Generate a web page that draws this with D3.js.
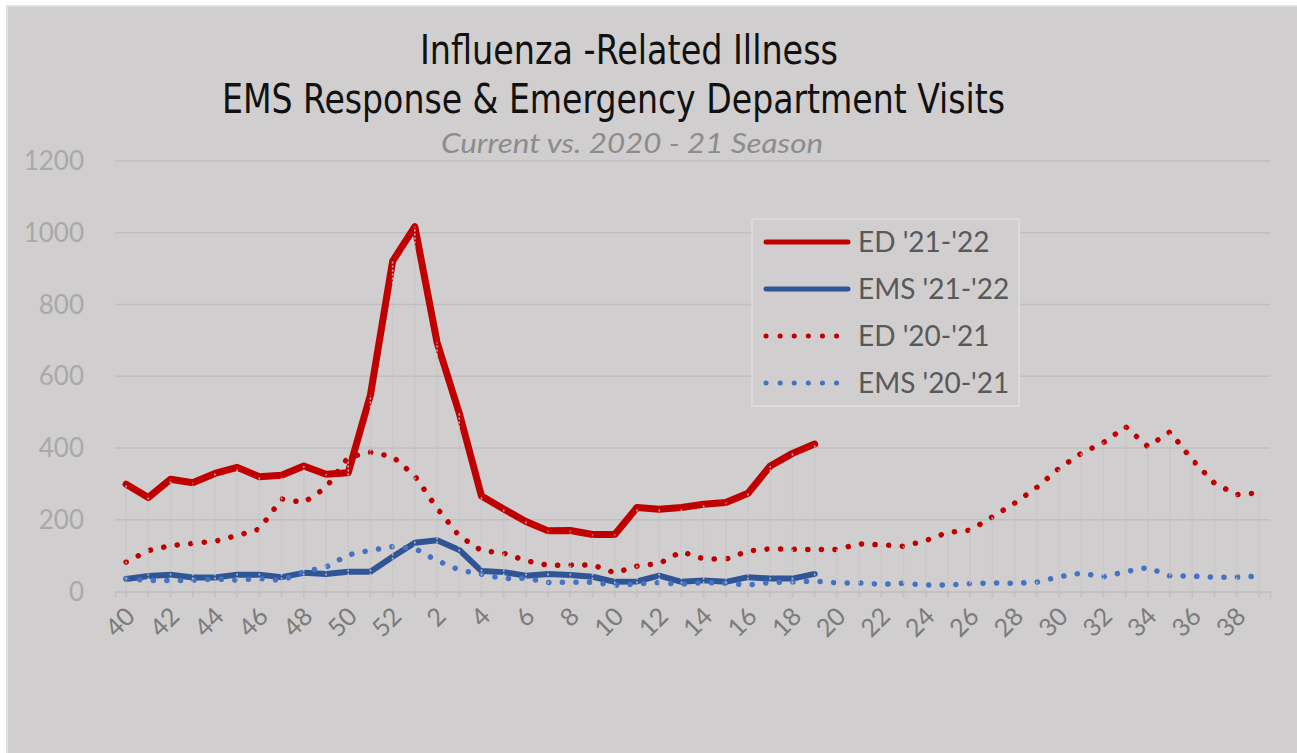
<!DOCTYPE html>
<html><head><meta charset="utf-8">
<script src="https://cdn.jsdelivr.net/npm/d3@7/dist/d3.min.js"></script>
<style>html,body{margin:0;padding:0;background:#fff;}svg{display:block;}</style>
</head><body>
<svg id="c" width="1297" height="753"></svg>
<script>
const weeks = [40,41,42,43,44,45,46,47,48,49,50,51,52,1,2,3,4,5,6,7,8,9,10,11,12,13,14,15,16,17,18,19,20,21,22,23,24,25,26,27,28,29,30,31,32,33,34,35,36,37,38,39];
const edCurrent = [299,262,313,303,329,346,320,324,350,327,331,548,921,1017,694,497,266,230,195,169,170,159,159,234,229,234,243,248,274,350,385,411];
const emsCurrent = [35,43,47,39,39,47,47,40,52,49,55,55,97,136,143,116,57,54,44,49,46,41,27,28,44,27,31,27,40,36,36,49];
const edPrev = [82,114,128,134,140,156,174,258,248,290,374,388,376,322,232,155,114,107,86,73,74,74,52,71,78,111,91,90,113,119,118,117,117,133,130,126,142,165,171,208,246,290,343,385,415,459,404,445,367,302,270,275];
const emsPrev = [35,31,31,31,35,32,36,31,55,68,102,115,125,120,86,60,48,36,37,25,26,26,17,21,25,20,25,23,18,25,27,29,24,24,20,23,18,18,22,24,23,26,41,51,41,55,67,43,43,40,40,43];
const yTicks = [0,200,400,600,800,1000,1200];
const xLabelWeeks = [40,42,44,46,48,50,52,2,4,6,8,10,12,14,16,18,20,22,24,26,28,30,32,34,36,38];
const seriesNames = ["ED '21-'22","EMS '21-'22","ED '20-'21","EMS '20-'21"];

const svg = d3.select("#c");
const L = 115, R = 1270, T = 161, B = 591.5;

svg.append("rect").attr("x",7).attr("y",6).attr("width",1297).attr("height",753)
  .attr("fill","#d0cecf").attr("stroke","#e2e1e1").attr("stroke-width",2);

const x = d3.scaleBand().domain(d3.range(weeks.length)).range([L,R]);
const cx = i => x(i) + x.bandwidth()/2;
const y = d3.scaleLinear().domain([0,1200]).range([B,T]);

// gridlines
svg.append("g").selectAll("line").data(yTicks.filter(d=>d>0)).join("line")
  .attr("x1",L).attr("x2",R).attr("y1",d=>y(d)).attr("y2",d=>y(d))
  .attr("stroke","#bfbfbf").attr("stroke-width",1.5);

// y labels
svg.append("g").selectAll("text").data(yTicks).join("text")
  .attr("x",84).attr("y",d=>y(d)+9).attr("text-anchor","end")
  .attr("font-family","Lato, 'Open Sans', sans-serif").attr("font-size",26)
  .attr("fill","#a9a9a9").text(d=>d);

// x axis
const xAxis = d3.axisBottom(x).tickSize(6).tickFormat("");
const gx = svg.append("g").attr("transform",`translate(0,${B})`).call(xAxis);
gx.select(".domain").attr("stroke","#bfbfbf").attr("stroke-width",1.5);
gx.selectAll(".tick line").attr("stroke","#bfbfbf").attr("stroke-width",1.5);

svg.append("g").selectAll("text").data(xLabelWeeks).join("text")
  .attr("transform",d=>{const i=weeks.indexOf(d);return `translate(${cx(i)+6},${B+22}) rotate(-45)`;})
  .attr("text-anchor","end").attr("dominant-baseline","middle")
  .attr("font-family","Lato, 'Open Sans', sans-serif").attr("font-size",25)
  .attr("fill","#7b7b7b").text(d=>d);

const line = d3.line().x((d,i)=>cx(i)).y(d=>y(d));

svg.append("path").datum(edCurrent).attr("d",line).attr("fill","none")
  .attr("stroke","#c00000").attr("stroke-width",7).attr("stroke-linejoin","round").attr("stroke-linecap","round");
svg.append("path").datum(emsCurrent).attr("d",line).attr("fill","none")
  .attr("stroke","#2f5597").attr("stroke-width",6).attr("stroke-linejoin","round").attr("stroke-linecap","round");
svg.append("path").datum(edPrev).attr("d",line).attr("fill","none")
  .attr("stroke","#c00000").attr("stroke-width",5.5).attr("stroke-dasharray","0.1,13.5").attr("stroke-linecap","round");
svg.append("path").datum(emsPrev).attr("d",line).attr("fill","none")
  .attr("stroke","#4472c4").attr("stroke-width",5.5).attr("stroke-dasharray","0.1,13.5").attr("stroke-linecap","round");

// drop lines
const maxAt = weeks.map((w,i)=>d3.max([edCurrent[i],emsCurrent[i],edPrev[i],emsPrev[i]].filter(v=>v!==undefined)));
svg.append("g").selectAll("line").data(maxAt).join("line")
  .attr("x1",(d,i)=>cx(i)).attr("x2",(d,i)=>cx(i)).attr("y1",B).attr("y2",d=>y(d))
  .attr("stroke","#c4c3c3").attr("stroke-width",1.6).attr("stroke-dasharray","2,2").attr("opacity",0.9);

// title
const tf = "'Liberation Sans Narrow','DejaVu Sans Condensed',sans-serif";
svg.append("text").attr("x",420).attr("y",64).attr("font-family",tf).attr("font-size",40)
  .attr("font-weight",300).attr("fill","#111").attr("textLength",418).attr("lengthAdjust","spacingAndGlyphs")
  .text("Influenza -Related Illness");
svg.append("text").attr("x",222).attr("y",113).attr("font-family",tf).attr("font-size",40)
  .attr("font-weight",300).attr("fill","#111").attr("textLength",783).attr("lengthAdjust","spacingAndGlyphs")
  .text("EMS Response & Emergency Department Visits");
svg.append("text").attr("x",441).attr("y",153)
  .attr("font-family","Lato, 'Open Sans', sans-serif").attr("font-style","italic").attr("font-size",27)
  .attr("textLength",382).attr("lengthAdjust","spacingAndGlyphs")
  .attr("fill","#8c8c8c").text("Current vs. 2020 - 21 Season");

// legend
const lg = svg.append("g");
lg.append("rect").attr("x",752).attr("y",219).attr("width",267).attr("height",187)
  .attr("fill","#d0cecf").attr("stroke","#e0dfdf").attr("stroke-width",1.5);
const styles = [
  {c:"#c00000",w:5,dash:null},
  {c:"#2f5597",w:5,dash:null},
  {c:"#c00000",w:5,dash:"0.1,14"},
  {c:"#4472c4",w:5,dash:"0.1,14"}];
seriesNames.forEach((n,k)=>{
  const yy = 242 + k*47;
  const s = styles[k];
  const ln = lg.append("line").attr("x1",766).attr("x2",848).attr("y1",yy).attr("y2",yy)
    .attr("stroke",s.c).attr("stroke-width",s.w).attr("stroke-linecap","round");
  if(s.dash){ ln.attr("stroke-dasharray",s.dash).attr("x2",843); }
  lg.append("text").attr("x",858).attr("y",yy+10).attr("font-family","Lato, 'Open Sans', sans-serif")
    .attr("font-size",28).attr("fill","#595959").text(n);
});
</script>
</body></html>
